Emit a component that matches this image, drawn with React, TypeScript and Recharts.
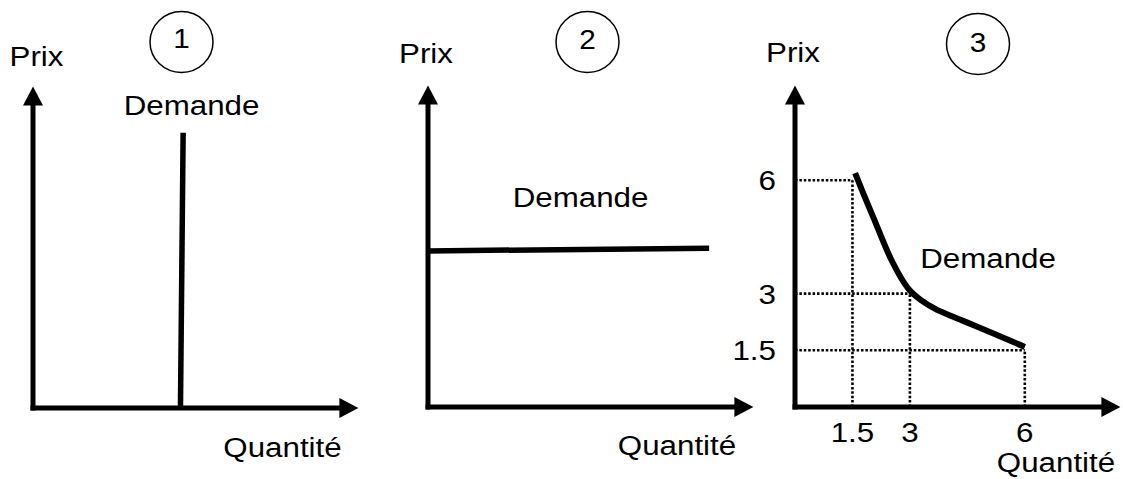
import React from "react";
import { ComposedChart, Line, Scatter, XAxis, YAxis, ReferenceLine } from "recharts";

/**
 * Three demand curves side by side: perfectly inelastic (1),
 * perfectly elastic (2) and a hyperbola-like curve with dotted guides (3).
 * Every panel shares the same 0..8 price/quantity scale; axes end in arrows.
 */

const W = 1123;
const H = 479;
const FONT = '"Liberation Sans", Arial, sans-serif';

// panel 1 - vertical demand
const p1Quantity = [3.85, 3.92];
const p1Price = [0, 7.28];

// panel 2 - horizontal demand
const p2Quantity = [0, 7.34];
const p2Price = [4.13, 4.2];

// panel 3 - curved demand
const p3Quantity = [1.57, 1.78, 2.04, 2.48, 3.0, 3.3, 3.65, 4.1, 4.65, 5.35, 6.0];
const p3Price = [6.19, 5.66, 5.03, 3.97, 3.08, 2.82, 2.6, 2.4, 2.17, 1.87, 1.59];
const guideQuantity = [1.5, 3, 6];
const guidePrice = [6, 3, 1.5];
const xTicks = [1.5, 3, 6];
const yTicks = [6, 3, 1.5];

const axisMax = 8;
const panelNumbers = ["1", "2", "3"];
const priceLabel = "Prix";
const quantityLabel = "Quantité";
const demandLabel = "Demande";

const toPoints = (qs: number[], ps: number[]) => qs.map((q, i) => ({ q, p: ps[i] }));

// layout (px): origin of each panel's axes
const UNIT_X = 38.3;
const UNIT_Y = 37.8;
const AXIS_SIZE = 1;
const panels = [
  {
    ox: 33, oy: 408,
    prix: [36.5, 66], badge: [181.5, 42, 48], demande: [191.5, 115], quantite: [282.5, 457],
  },
  {
    ox: 428, oy: 407,
    prix: [426, 63], badge: [587.5, 42, 49], demande: [580.5, 207], quantite: [677, 455],
  },
  {
    ox: 795, oy: 407,
    prix: [793, 62], badge: [978, 44, 52], demande: [988, 268], quantite: [1056, 472],
  },
];

const Txt = ({ x, y, children, anchor = "middle", sx = 1.16, size = 27, dy }: any) => (
  <text
    transform={`translate(${x},${y}) scale(${sx},1)`}
    textAnchor={anchor}
    dy={dy}
    fontFamily={FONT}
    fontSize={size}
    fill="#000"
  >
    {children}
  </text>
);

const RightArrow = (props: any) => {
  const { cx, cy } = props;
  return <polygon points={`${cx},${cy - 10} ${cx + 19},${cy} ${cx},${cy + 10}`} fill="#000" />;
};

const UpArrow = (props: any) => {
  const { cx, cy } = props;
  return <polygon points={`${cx - 10},${cy} ${cx},${cy - 19} ${cx + 10},${cy}`} fill="#000" />;
};

const XTick = (props: any) => {
  const { x, y, payload } = props;
  return <Txt x={x} y={y} sx={1.12} size={28} dy="0.72em">{payload.value}</Txt>;
};

const YTick = (props: any) => {
  const { x, y, payload } = props;
  return <Txt x={x} y={y} sx={1.12} size={28} anchor="end" dy="0.36em">{payload.value}</Txt>;
};

const axisLine = { stroke: "#000", strokeWidth: 5, strokeLinecap: "square" };

function Panel({ idx, withTicks, children }: any) {
  const cfg = panels[idx];
  const margin = {
    left: cfg.ox - AXIS_SIZE,
    top: cfg.oy - axisMax * UNIT_Y,
    right: W - cfg.ox - axisMax * UNIT_X,
    bottom: H - cfg.oy - AXIS_SIZE,
  };
  return (
    <div style={{ position: "absolute", left: 0, top: 0 }}>
      <ComposedChart width={W} height={H} margin={margin}>
        <XAxis
          type="number"
          dataKey="q"
          domain={[0, axisMax]}
          height={AXIS_SIZE}
          axisLine={axisLine}
          tickLine={false}
          ticks={withTicks ? xTicks : [0]}
          tick={withTicks ? <XTick /> : false}
          tickSize={0}
          tickMargin={15}
          interval={0}
        />
        <YAxis
          type="number"
          dataKey="p"
          domain={[0, axisMax]}
          width={AXIS_SIZE}
          axisLine={axisLine}
          tickLine={false}
          ticks={withTicks ? yTicks : [0]}
          tick={withTicks ? <YTick /> : false}
          tickSize={0}
          tickMargin={19}
          interval={0}
        />
        {children}
        <Scatter data={[{ q: axisMax, p: 0 }]} dataKey="p" shape={<RightArrow />} isAnimationActive={false} />
        <Scatter data={[{ q: 0, p: axisMax }]} dataKey="p" shape={<UpArrow />} isAnimationActive={false} />
        <Txt x={cfg.prix[0]} y={cfg.prix[1]}>{priceLabel}</Txt>
        <Txt x={cfg.quantite[0]} y={cfg.quantite[1]}>{quantityLabel}</Txt>
        <Txt x={cfg.demande[0]} y={cfg.demande[1]}>{demandLabel}</Txt>
        <g>
          <ellipse cx={cfg.badge[0]} cy={cfg.badge[1]} rx={31.5} ry={30.5} fill="none" stroke="#000" strokeWidth={1.5} />
          <Txt x={cfg.badge[0]} y={cfg.badge[2]} sx={1.1}>{panelNumbers[idx]}</Txt>
        </g>
      </ComposedChart>
    </div>
  );
}

export default function App() {
  return (
    <div style={{ position: "fixed", left: 0, top: 0, width: W, height: H, background: "#fff" }}>
      <Panel idx={0}>
        <Line
          data={toPoints(p1Quantity, p1Price)}
          dataKey="p"
          type="linear"
          stroke="#000"
          strokeWidth={5.5}
          dot={false}
          activeDot={false}
          isAnimationActive={false}
        />
      </Panel>
      <Panel idx={1}>
        <Line
          data={toPoints(p2Quantity, p2Price)}
          dataKey="p"
          type="linear"
          stroke="#000"
          strokeWidth={5.5}
          dot={false}
          activeDot={false}
          isAnimationActive={false}
        />
      </Panel>
      <Panel idx={2} withTicks>
        {guideQuantity.map((q, i) => (
          <ReferenceLine
            key={`h${i}`}
            segment={[{ x: 0, y: guidePrice[i] }, { x: q, y: guidePrice[i] }]}
            stroke="#000"
            strokeWidth={2.6}
            strokeDasharray="2.5 1.9"
            ifOverflow="visible"
          />
        ))}
        {guideQuantity.map((q, i) => (
          <ReferenceLine
            key={`v${i}`}
            segment={[{ x: q, y: 0 }, { x: q, y: guidePrice[i] }]}
            stroke="#000"
            strokeWidth={2.6}
            strokeDasharray="2.5 1.9"
            ifOverflow="visible"
          />
        ))}
        <Line
          data={toPoints(p3Quantity, p3Price)}
          dataKey="p"
          type="monotone"
          stroke="#000"
          strokeWidth={6}
          dot={false}
          activeDot={false}
          isAnimationActive={false}
        />
      </Panel>
    </div>
  );
}
